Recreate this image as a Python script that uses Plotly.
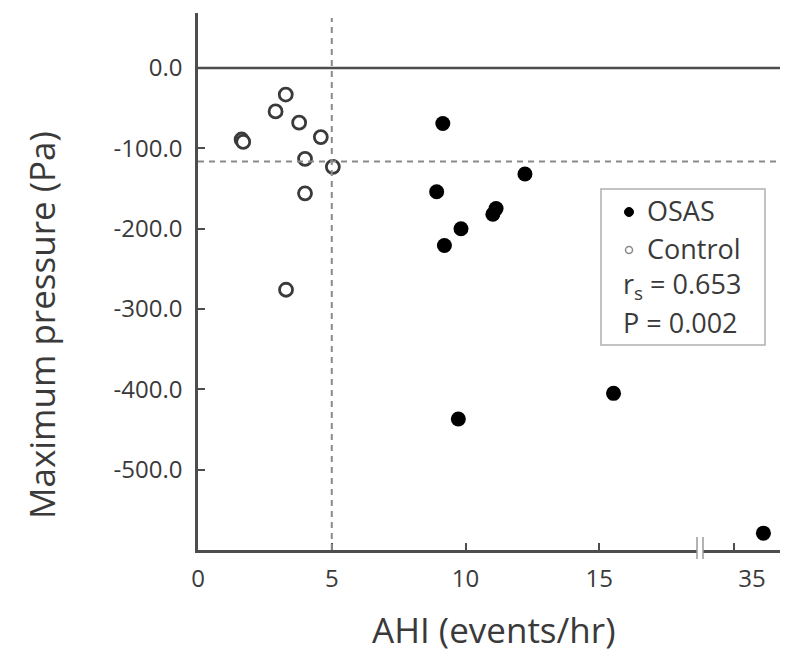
import plotly.graph_objects as go

# ---- data ----
osas_ahi = [9.15, 8.92, 12.22, 11.14, 11.02, 9.83, 9.21, 9.73, 15.53]
osas_p = [-69, -154, -132, -175, -182, -200, -221, -437, -405]
osas_far_ahi = [36.1]
osas_far_p = [-579]

ctrl_ahi = [1.63, 1.69, 2.90, 3.28, 3.78, 4.59, 4.00, 5.04, 4.00, 3.29]
ctrl_p = [-89, -92, -54, -33, -68, -86, -113, -123, -156, -276]

x_ticks_left = [0, 5, 10, 15]
x_labels_left = ["0", "5", "10", "15"]
x_ticks_right = [35]
x_labels_right = ["35"]
y_ticks = [0, -100, -200, -300, -400, -500]
y_labels = ["0.0", "-100.0", "-200.0", "-300.0", "-400.0", "-500.0"]

ahi_cutoff = 5
pressure_cutoff = -116.5

FONT = "Open Sans"
TXT = "#3a3a3a"
AX = "#4d4d4d"

# plot area in page pixels (page has an 8px body margin)
PL, PR, PT, PB = 198, 788, 13, 550
PW, PH = PR - PL, PB - PT


def px(xp):
    return (xp - PL) / PW


def py(yp):
    return (PB - yp) / PH


fig = go.Figure()
fig.add_trace(go.Scatter(x=osas_ahi, y=osas_p, mode="markers", name="OSAS",
                         marker=dict(size=15, color="black"), xaxis="x", yaxis="y"))
fig.add_trace(go.Scatter(x=osas_far_ahi, y=osas_far_p, mode="markers", name="OSAS",
                         marker=dict(size=15, color="black"), xaxis="x2", yaxis="y",
                         showlegend=False))
fig.add_trace(go.Scatter(x=ctrl_ahi, y=ctrl_p, mode="markers", name="Control",
                         marker=dict(size=13, color="white", line=dict(color="#3a3a3a", width=2.8)),
                         xaxis="x", yaxis="y"))

axis_common = dict(showline=True, linecolor=AX, linewidth=2.5, showgrid=False, zeroline=False,
                   ticks="inside", ticklen=7, tickwidth=2, tickcolor=AX,
                   tickfont=dict(family=FONT, size=24, color=TXT))

split_l = px(697)
split_r = px(703)

fig.update_layout(
    width=780, height=649,
    margin=dict(l=PL - 8, r=0, t=PT - 8, b=649 + 8 - PB),
    paper_bgcolor="white", plot_bgcolor="white",
    showlegend=False,
    xaxis=dict(domain=[0, split_l], range=[0, 18.65], tickmode="array",
               tickvals=x_ticks_left, ticktext=x_labels_left, anchor="y",
               ticklabelstandoff=5,
               **axis_common),
    xaxis2=dict(domain=[split_r, 1], range=[33.84, 37.02], tickmode="array",
                tickvals=x_ticks_right, ticktext=x_labels_right, anchor="y",
                ticklabelstandoff=5, ticklabelshift=18,
                **axis_common),
    yaxis=dict(range=[-600, 68.5], tickmode="array", tickvals=y_ticks, ticktext=y_labels,
               anchor="x", ticklabelstandoff=8,
               **axis_common),
)

DASH = "6px,5px"
shapes = [
    dict(type="line", xref="paper", yref="y", x0=0, x1=1, y0=0, y1=0,
         line=dict(color=AX, width=2.5)),
    dict(type="line", xref="paper", yref="y", x0=0, x1=1, y0=pressure_cutoff, y1=pressure_cutoff,
         line=dict(color="#8a8a8a", width=2, dash=DASH)),
    dict(type="line", xref="x", yref="paper", x0=ahi_cutoff, x1=ahi_cutoff, y0=0, y1=py(18),
         line=dict(color="#8a8a8a", width=2, dash=DASH)),
    dict(type="line", xref="paper", yref="paper", x0=split_l, x1=split_l, y0=py(559), y1=py(537),
         line=dict(color="#9a9a9a", width=1.5)),
    dict(type="line", xref="paper", yref="paper", x0=split_r, x1=split_r, y0=py(559), y1=py(537),
         line=dict(color="#9a9a9a", width=1.5)),
    # legend box
    dict(type="rect", xref="paper", yref="paper", x0=px(601), x1=px(765), y0=py(345), y1=py(189),
         line=dict(color="#b0b0b0", width=1.5), fillcolor="white", layer="below"),
    # legend markers
    dict(type="circle", xref="paper", yref="paper", xsizemode="pixel", ysizemode="pixel",
         xanchor=px(629), yanchor=py(212), x0=-4.5, x1=4.5, y0=-4.5, y1=4.5,
         fillcolor="black", line=dict(color="black", width=1)),
    dict(type="circle", xref="paper", yref="paper", xsizemode="pixel", ysizemode="pixel",
         xanchor=px(629), yanchor=py(250), x0=-3.5, x1=3.5, y0=-3.5, y1=3.5,
         fillcolor="white", line=dict(color="#8a8a8a", width=1.5)),
]
fig.update_layout(shapes=shapes)

for label, xp, yp in [("OSAS", 645, 210), ("Control", 645, 248),
                      ("r<sub>s</sub> = 0.653", 621, 285), ("P = 0.002", 621, 322)]:
    fig.add_annotation(xref="paper", yref="paper", x=px(xp), y=py(yp),
                       text=label, showarrow=False, xanchor="left", yanchor="middle",
                       font=dict(family=FONT, size=27, color=TXT))

# axis titles
fig.add_annotation(xref="paper", yref="paper", x=px(493), y=py(629),
                   text="AHI (events/hr)", showarrow=False, xanchor="center", yanchor="middle",
                   font=dict(family=FONT, size=35, color=TXT))
fig.add_annotation(xref="paper", yref="paper", x=px(41), y=py(325),
                   text="Maximum pressure (Pa)", textangle=-90, showarrow=False,
                   xanchor="center", yanchor="middle",
                   font=dict(family=FONT, size=35, color=TXT))

fig.write_html("out.html")
